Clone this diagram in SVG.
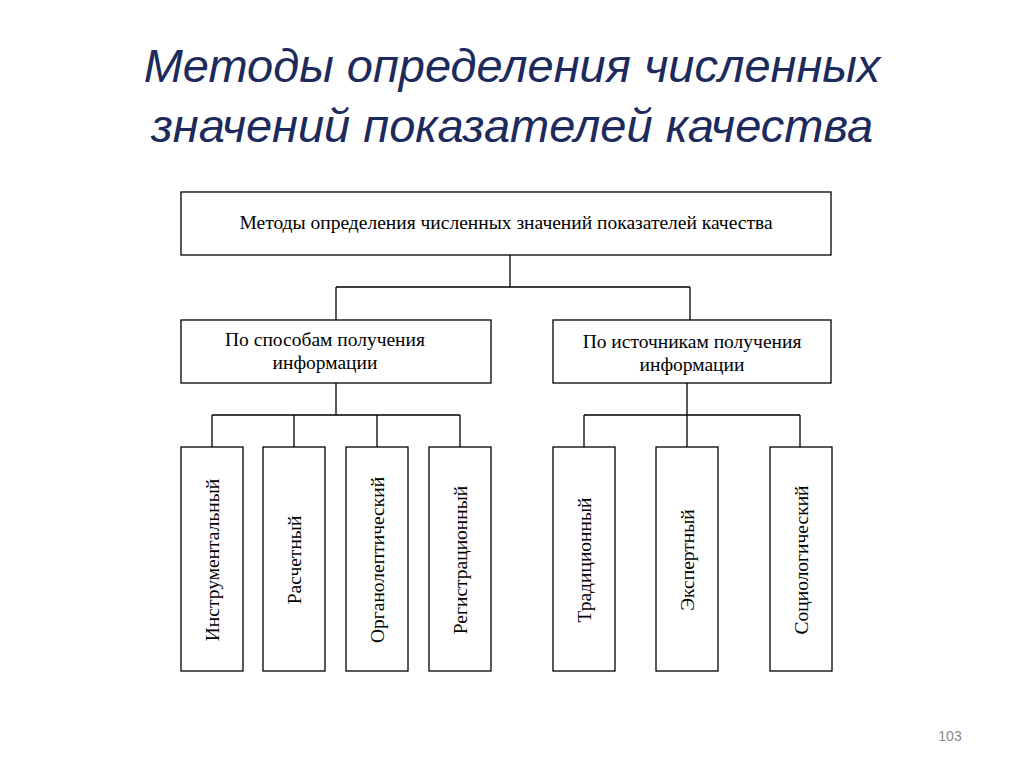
<svg xmlns="http://www.w3.org/2000/svg" width="1024" height="767" viewBox="0 0 1024 767">
<style>
.b{fill:#fff;stroke:#000;stroke-width:1.3}
.t{font-family:"Liberation Serif",serif;font-size:19.5px;fill:#000;text-anchor:middle}
.v{font-family:"Liberation Serif",serif;font-size:19.5px;fill:#000;text-anchor:middle;dominant-baseline:central}
.h{font-family:"Liberation Sans",sans-serif;font-style:italic;font-size:47px;fill:#1c2a5c;text-anchor:middle}
</style>
<rect width="1024" height="767" fill="#fff"/>
<text class="h" x="512" y="82">Методы определения численных</text>
<text class="h" x="512" y="142">значений показателей качества</text>
<g id="connectors" fill="none" stroke="#000" stroke-width="1.3">
<path d="M510 255V287M336 287H690M336 287V320M690 287V320"/>
<path d="M336 383V415M212 415H460M212 415V447M294 415V447M377 415V447M460 415V447"/>
<path d="M687 383V415M584 415H800M584 415V447M687 415V447M800 415V447"/>
</g>
<g id="root"><rect class="b" x="181" y="192" width="650" height="63"/><text class="t" x="506" y="229">Методы определения численных значений показателей качества</text></g>
<g id="left"><rect class="b" x="181" y="320" width="310" height="63"/><text class="t" x="325" y="346">По способам получения</text><text class="t" x="325" y="369">информации</text></g>
<g id="right"><rect class="b" x="553" y="320" width="278" height="63"/><text class="t" x="692" y="348">По источникам получения</text><text class="t" x="692" y="371">информации</text></g>
<g id="n1"><rect class="b" x="181" y="447" width="62" height="224"/><text class="v" transform="translate(212 560) rotate(-90)">Инструментальный</text></g>
<g id="n2"><rect class="b" x="263" y="447" width="62" height="224"/><text class="v" transform="translate(294 560) rotate(-90)">Расчетный</text></g>
<g id="n3"><rect class="b" x="346" y="447" width="62" height="224"/><text class="v" transform="translate(377 560) rotate(-90)">Органолептический</text></g>
<g id="n4"><rect class="b" x="429" y="447" width="62" height="224"/><text class="v" transform="translate(460 560) rotate(-90)">Регистрационный</text></g>
<g id="n5"><rect class="b" x="553" y="447" width="62" height="224"/><text class="v" transform="translate(584 560) rotate(-90)">Традиционный</text></g>
<g id="n6"><rect class="b" x="656" y="447" width="62" height="224"/><text class="v" transform="translate(687 560) rotate(-90)">Экспертный</text></g>
<g id="n7"><rect class="b" x="770" y="447" width="62" height="224"/><text class="v" transform="translate(801 560) rotate(-90)">Социологический</text></g>
<text x="950" y="741" font-family="Liberation Sans,sans-serif" font-size="14" fill="#888" text-anchor="middle">103</text>
</svg>
